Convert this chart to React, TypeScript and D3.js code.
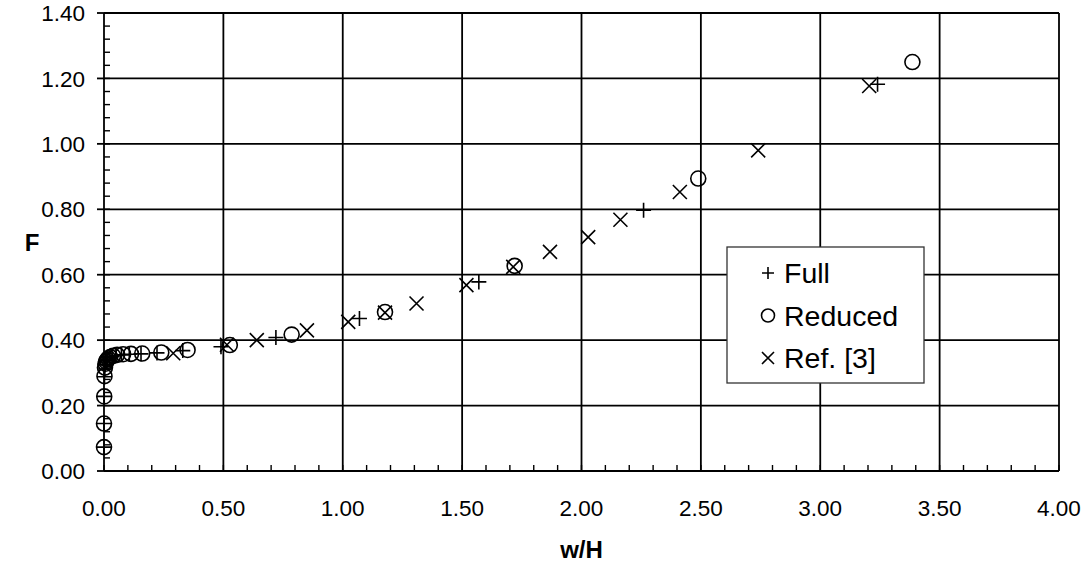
import React from "react";
import * as d3 from "d3";

// ---- data ----
const fullX = [0.000, 0.000, 0.001, 0.002, 0.003, 0.005, 0.008, 0.011, 0.016, 0.023, 0.034, 0.050, 0.073, 0.106, 0.155, 0.222, 0.33, 0.49, 0.72, 1.07, 1.57, 2.26, 3.24];
const fullF = [0.073, 0.145, 0.228, 0.288, 0.312, 0.325, 0.333, 0.338, 0.342, 0.346, 0.350, 0.353, 0.355, 0.357, 0.358, 0.361, 0.368, 0.380, 0.408, 0.466, 0.578, 0.797, 1.182];

const reducedX = [0.000, 0.000, 0.001, 0.002, 0.004, 0.006, 0.009, 0.013, 0.018, 0.026, 0.038, 0.055, 0.080, 0.113, 0.160, 0.240, 0.350, 0.527, 0.786, 1.177, 1.72, 2.489, 3.386];
const reducedF = [0.073, 0.145, 0.228, 0.290, 0.316, 0.328, 0.335, 0.340, 0.344, 0.348, 0.352, 0.355, 0.357, 0.358, 0.359, 0.362, 0.370, 0.385, 0.417, 0.486, 0.627, 0.894, 1.250];

const refX = [0.290, 0.515, 0.64, 0.85, 1.023, 1.177, 1.309, 1.518, 1.714, 1.868, 2.028, 2.163, 2.412, 2.74, 3.205];
const refF = [0.360, 0.386, 0.400, 0.430, 0.456, 0.484, 0.512, 0.568, 0.624, 0.670, 0.715, 0.768, 0.853, 0.980, 1.177];

const xTicks = [0, 0.5, 1, 1.5, 2, 2.5, 3, 3.5, 4];
const yTicks = [0, 0.2, 0.4, 0.6, 0.8, 1.0, 1.2, 1.4];
const legendLabels = ["Full", "Reduced", "Ref. [3]"];

const W = 1081;
const H = 572;
const FONT = "'Liberation Sans', Arial, sans-serif";

const x = d3.scaleLinear().domain([0, 4]).range([104, 1059]);
const y = d3.scaleLinear().domain([0, 1.4]).range([471, 13]);

const Plus = ({ cx, cy, s = 7.5 }: { cx: number; cy: number; s?: number }) => (
  <path d={`M${cx - s},${cy}H${cx + s}M${cx},${cy - s}V${cy + s}`} stroke="#000" strokeWidth={1.6} fill="none" />
);
const Circ = ({ cx, cy, r = 7.5 }: { cx: number; cy: number; r?: number }) => (
  <circle cx={cx} cy={cy} r={r} stroke="#000" strokeWidth={1.6} fill="none" />
);
const Cross = ({ cx, cy, s = 7 }: { cx: number; cy: number; s?: number }) => (
  <path d={`M${cx - s},${cy - s}L${cx + s},${cy + s}M${cx - s},${cy + s}L${cx + s},${cy - s}`} stroke="#000" strokeWidth={1.6} fill="none" />
);

export default function App() {
  const xMinor = d3.range(0, 4.0001, 0.1);
  const yMinor = d3.range(0, 1.4001, 0.04);
  const [x0, x1] = x.range();
  const [y0, y1] = y.range();
  const legX = 727, legY = 247, legW = 197, legH = 136;
  return (
    <svg width={W} height={H} style={{ position: "absolute", left: 0, top: 0, background: "#fff" }} fontFamily={FONT}>
      <rect x={0} y={0} width={W} height={H} fill="#fff" />
      {/* grid */}
      {xTicks.map((t) => (
        <line key={"gx" + t} x1={x(t)} x2={x(t)} y1={y1} y2={y0} stroke="#000" strokeWidth={1.8} />
      ))}
      {yTicks.map((t) => (
        <line key={"gy" + t} x1={x0} x2={x1} y1={y(t)} y2={y(t)} stroke="#000" strokeWidth={1.8} />
      ))}
      {/* minor ticks */}
      {xMinor.map((t, i) => (
        <line key={"mx" + i} x1={x(t)} x2={x(t)} y1={y0} y2={y0 - 6} stroke="#000" strokeWidth={1.4} />
      ))}
      {yMinor.map((t, i) => (
        <line key={"my" + i} x1={x0} x2={x0 + 6} y1={y(t)} y2={y(t)} stroke="#000" strokeWidth={1.4} />
      ))}
      {/* y major ticks outside */}
      {yTicks.map((t) => (
        <line key={"ty" + t} x1={x0 - 7} x2={x0} y1={y(t)} y2={y(t)} stroke="#000" strokeWidth={1.8} />
      ))}
      {/* tick labels */}
      {yTicks.map((t) => (
        <text key={"ly" + t} x={85} y={y(t)} dy="0.36em" textAnchor="end" fontSize={22.5} fill="#000">
          {t.toFixed(2)}
        </text>
      ))}
      {xTicks.map((t) => (
        <text key={"lx" + t} x={x(t)} y={516} textAnchor="middle" fontSize={22.5} fill="#000">
          {t.toFixed(2)}
        </text>
      ))}
      {/* axis titles */}
      <text x={x(2)} y={558} textAnchor="middle" fontSize={24} fontWeight="bold">w/H</text>
      <text x={32} y={y(0.7)} dy="0.36em" textAnchor="middle" fontSize={24} fontWeight="bold">F</text>
      {/* data */}
      {reducedX.map((v, i) => (
        <Circ key={"r" + i} cx={x(v)} cy={y(reducedF[i])} />
      ))}
      {fullX.map((v, i) => (
        <Plus key={"f" + i} cx={x(v)} cy={y(fullF[i])} />
      ))}
      {refX.map((v, i) => (
        <Cross key={"x" + i} cx={x(v)} cy={y(refF[i])} />
      ))}
      {/* legend */}
      <rect x={legX} y={legY} width={legW} height={legH} fill="#fff" stroke="#333" strokeWidth={1.3} />
      {legendLabels.map((lab, i) => {
        const cy = legY + 26 + i * 42.5;
        return (
          <g key={lab}>
            {i === 0 && <Plus cx={768} cy={cy} s={6} />}
            {i === 1 && <Circ cx={768} cy={cy} r={6.5} />}
            {i === 2 && <Cross cx={768} cy={cy} s={6} />}
            <text x={784} y={cy} dy="0.36em" fontSize={28.5} fill="#000">{lab}</text>
          </g>
        );
      })}
    </svg>
  );
}
